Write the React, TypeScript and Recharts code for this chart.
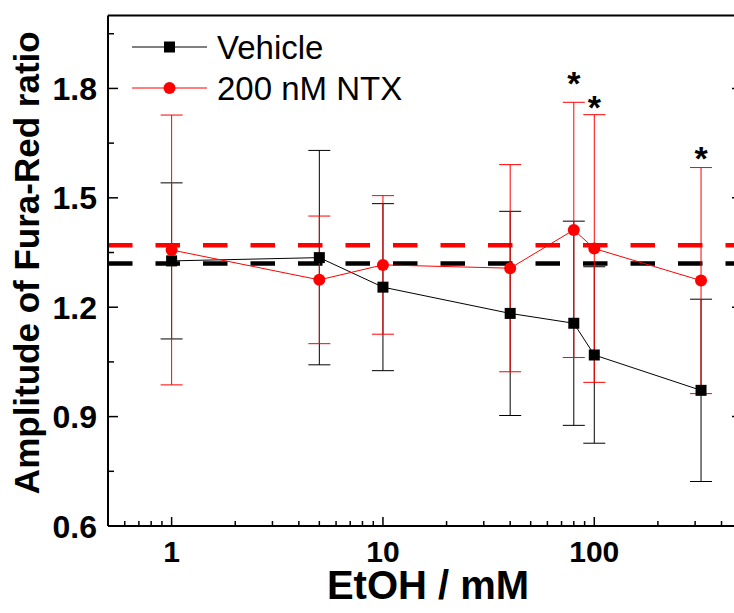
import React from 'react';
import { ComposedChart, Scatter, ErrorBar, XAxis, YAxis, ReferenceLine, Legend } from 'recharts';

// EtOH concentrations (mM) and measured amplitudes
const concentrations = [1, 5, 10, 40, 80, 100, 320];
const vehicleMean = [1.327, 1.336, 1.255, 1.183, 1.156, 1.069, 0.972];
const vehicleErr = [0.214, 0.294, 0.229, 0.28, 0.28, 0.242, 0.25];
const ntxMean = [1.357, 1.275, 1.316, 1.307, 1.412, 1.361, 1.273];
const ntxErr = [0.37, 0.175, 0.19, 0.284, 0.35, 0.367, 0.31];

// baseline (dashed) levels
const vehicleBaseline = 1.32;
const ntxBaseline = 1.37;

// significance markers
const starConc = [80, 100, 320];
const starLevel = [1.837, 1.771, 1.631];

const xMajor = [1, 10, 100];
const xMinor = [0.6, 0.7, 0.8, 0.9, 2, 3, 4, 5, 6, 7, 8, 9, 20, 30, 40, 50, 60, 70, 80, 90, 200, 300, 400];
const yMajor = [0.6, 0.9, 1.2, 1.5, 1.8];
const yMinor = [0.75, 1.05, 1.35, 1.65, 1.95];

const xTicks = [...xMajor, ...xMinor].sort((a, b) => a - b);
const yTicks = [...yMajor, ...yMinor].sort((a, b) => a - b);

const vehicleData = concentrations.map((x, i) => ({ x, y: vehicleMean[i], err: vehicleErr[i] }));
const ntxData = concentrations.map((x, i) => ({ x, y: ntxMean[i], err: ntxErr[i] }));
const starData = starConc.map((x, i) => ({ x, y: starLevel[i] }));

const FONT = '"Liberation Sans", Arial, sans-serif';

const isMajor = (list: number[], v: number) => list.some((m) => Math.abs(m - v) < 1e-9);

const BottomTick = ({ x, y, payload }: any) => {
  const major = isMajor(xMajor, payload.value);
  return (
    <g>
      <line x1={x} y1={y} x2={x} y2={y - (major ? 9 : 5)} stroke="#000" strokeWidth={1.5} />
      {major && (
        <text x={x} y={y + 36} textAnchor="middle" fontFamily={FONT} fontWeight="bold" fontSize={30} fill="#000">
          {payload.value}
        </text>
      )}
    </g>
  );
};

const TopTick = ({ x, y, payload }: any) => {
  const major = isMajor(xMajor, payload.value);
  return <line x1={x} y1={y} x2={x} y2={y + (major ? 9 : 5)} stroke="#000" strokeWidth={1.5} />;
};

const LeftTick = ({ x, y, payload }: any) => {
  const major = isMajor(yMajor, payload.value);
  return (
    <g>
      <line x1={x} y1={y} x2={x + (major ? 10 : 6)} y2={y} stroke="#000" strokeWidth={1.5} />
      {major && (
        <text x={x - 11} y={y + 11.5} textAnchor="end" fontFamily={FONT} fontWeight="bold" fontSize={32} fill="#000">
          {payload.value.toFixed(1)}
        </text>
      )}
    </g>
  );
};

const RightTick = ({ x, y, payload }: any) => {
  const major = isMajor(yMajor, payload.value);
  return <line x1={x} y1={y} x2={x - (major ? 10 : 6)} y2={y} stroke="#000" strokeWidth={1.5} />;
};

const XTitle = (props: any) => {
  const vb = props.viewBox || { x: 108, y: 526, width: 634, height: 87 };
  return (
    <text x={vb.x + vb.width / 2 + 3} y={vb.y + 73} textAnchor="middle" fontFamily={FONT} fontWeight="bold" fontSize={40} fill="#000">
      EtOH / mM
    </text>
  );
};

const YTitle = (props: any) => {
  const vb = props.viewBox || { x: 0, y: 15.5, width: 108, height: 510.5 };
  const cy = vb.y + vb.height / 2 - 8;
  return (
    <text transform={`translate(39, ${cy}) rotate(-90)`} textAnchor="middle" fontFamily={FONT} fontWeight="bold" fontSize={35} fill="#000">
      Amplitude of Fura-Red ratio
    </text>
  );
};

const Square = ({ cx, cy }: any) => <rect x={cx - 5.5} y={cy - 5.5} width={11} height={11} fill="#000" />;
const Dot = ({ cx, cy }: any) => <circle cx={cx} cy={cy} r={6} fill="#ff0000" />;
const Star = ({ cx, cy }: any) => (
  <text x={cx} y={cy + 20} textAnchor="middle" fontFamily={FONT} fontWeight="bold" fontSize={34} fill="#000">
    *
  </text>
);

const LegendBox = () => (
  <svg width={300} height={90}>
    <line x1={12} y1={27} x2={87} y2={27} stroke="#000" strokeWidth={1} />
    <rect x={44} y={21.5} width={11} height={11} fill="#000" />
    <text x={97} y={39} fontFamily={FONT} fontSize={33} fill="#000">Vehicle</text>
    <line x1={12} y1={68} x2={87} y2={68} stroke="#ff0000" strokeWidth={1} />
    <circle cx={49.5} cy={68} r={6} fill="#ff0000" />
    <text x={97} y={80} fontFamily={FONT} fontSize={33} fill="#000">200 nM NTX</text>
  </svg>
);

const App = () => {
  return (
    <div style={{ position: 'absolute', left: 0, top: 0, width: 734, height: 613, overflow: 'hidden', background: '#fff' }}>
      <ComposedChart width={760} height={613} margin={{ top: 14.5, right: 0, bottom: 0, left: 0 }}>
        <XAxis
          dataKey="x"
          type="number"
          scale="log"
          domain={[0.5, 500]}
          allowDataOverflow
          ticks={xTicks}
          interval={0}
          tickSize={0}
          tickMargin={0}
          tick={<BottomTick />}
          tickLine={false}
          axisLine={{ stroke: '#000', strokeWidth: 2 }}
          height={87}
          label={XTitle}
        />
        <XAxis
          xAxisId="top"
          orientation="top"
          type="number"
          scale="log"
          domain={[0.5, 500]}
          allowDataOverflow
          ticks={xTicks}
          interval={0}
          tickSize={0}
          tickMargin={0}
          tick={<TopTick />}
          tickLine={false}
          axisLine={{ stroke: '#000', strokeWidth: 2 }}
          height={1}
        />
        <YAxis
          dataKey="y"
          type="number"
          domain={[0.6, 2.0]}
          allowDataOverflow
          ticks={yTicks}
          interval={0}
          tickSize={0}
          tickMargin={0}
          tick={<LeftTick />}
          tickLine={false}
          axisLine={{ stroke: '#000', strokeWidth: 2 }}
          width={108}
          label={YTitle}
        />
        <YAxis
          yAxisId="right"
          orientation="right"
          type="number"
          domain={[0.6, 2.0]}
          allowDataOverflow
          ticks={yTicks}
          interval={0}
          tickSize={0}
          tickMargin={0}
          tick={<RightTick />}
          tickLine={false}
          axisLine={{ stroke: '#000', strokeWidth: 2 }}
          width={18}
        />
        <ReferenceLine y={ntxBaseline} stroke="#ff0000" strokeWidth={4.5} strokeDasharray="24.5 23" />
        <ReferenceLine y={vehicleBaseline} stroke="#000" strokeWidth={4.5} strokeDasharray="24.5 23" />
        <Scatter
          name="Vehicle"
          data={vehicleData}
          line={{ stroke: '#000', strokeWidth: 1 }}
          shape={<Square />}
          isAnimationActive={false}
        >
          <ErrorBar dataKey="err" direction="y" width={11} stroke="#000" strokeWidth={1} />
        </Scatter>
        <Scatter
          name="200 nM NTX"
          data={ntxData}
          line={{ stroke: '#ff0000', strokeWidth: 1 }}
          shape={<Dot />}
          isAnimationActive={false}
        >
          <ErrorBar dataKey="err" direction="y" width={11} stroke="#ff0000" strokeWidth={1} />
        </Scatter>
        <Scatter name="sig" data={starData} shape={<Star />} isAnimationActive={false} legendType="none" />
        <Legend
          content={<LegendBox />}
          layout="horizontal"
          verticalAlign="middle"
          align="center"
          wrapperStyle={{ left: 120, top: 20, width: 300, height: 90 }}
        />
      </ComposedChart>
    </div>
  );
};

export default App;
